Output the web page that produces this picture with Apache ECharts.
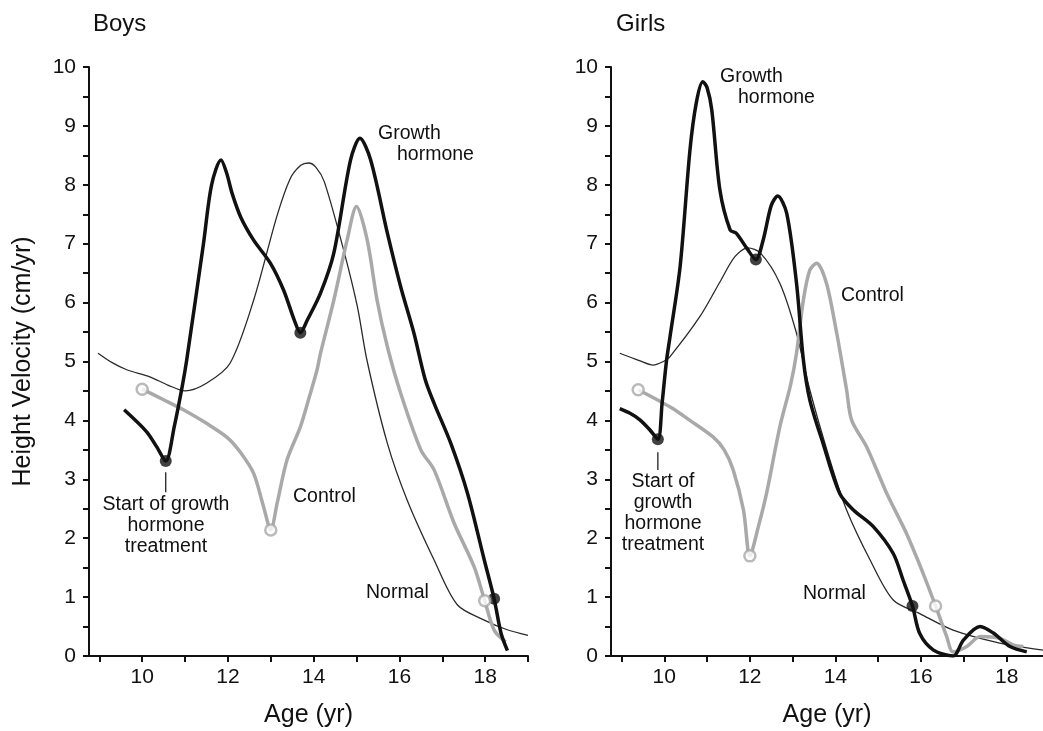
<!DOCTYPE html>
<html>
<head>
<meta charset="utf-8">
<script src="https://cdn.jsdelivr.net/npm/echarts@6/dist/echarts.min.js"></script>
<style>
  html, body { margin: 0; padding: 0; background: #fff; }
  #main { width: 1043px; height: 731px; }
</style>
</head>
<body>
<div id="main"></div>
<script>
// 数据：年龄 (yr) 与 身高增长速度 (cm/yr)
var boysGrowth = [[9.58,4.18],[10.1,3.81],[10.34,3.55],[10.55,3.31],[10.75,3.9],[10.94,4.6],[11.04,5.03],[11.43,7.0],[11.62,8.0],[11.84,8.42],[11.97,8.2],[12.1,7.85],[12.3,7.45],[12.6,7.06],[12.99,6.67],[13.3,6.21],[13.55,5.7],[13.69,5.49],[13.85,5.7],[14.16,6.16],[14.47,6.84],[14.86,8.42],[15.08,8.79],[15.33,8.42],[15.72,7.18],[16.03,6.27],[16.34,5.48],[16.6,4.7],[16.81,4.29],[17.2,3.61],[17.59,2.76],[17.98,1.63],[18.21,0.97],[18.37,0.39],[18.52,0.09]];
var boysControl = [[10.0,4.53],[10.5,4.35],[10.96,4.18],[11.5,3.95],[12.0,3.7],[12.3,3.45],[12.6,3.1],[12.83,2.54],[13.0,2.14],[13.15,2.6],[13.38,3.33],[13.69,3.89],[13.9,4.4],[14.08,4.86],[14.16,5.14],[14.47,6.04],[14.78,7.06],[15.0,7.63],[15.25,7.06],[15.48,6.04],[15.72,5.25],[16.03,4.46],[16.5,3.5],[16.81,3.16],[17.28,2.25],[17.74,1.52],[17.99,0.94],[18.21,0.44],[18.48,0.24]];
var boysNormal = [[8.97,5.14],[9.3,4.98],[9.64,4.86],[10.18,4.74],[10.6,4.6],[11.0,4.5],[11.5,4.63],[12.05,4.97],[12.6,6.04],[13.14,7.46],[13.45,8.1],[13.7,8.33],[13.88,8.37],[14.05,8.3],[14.25,8.05],[14.7,6.89],[15.02,5.93],[15.25,5.0],[15.72,3.61],[16.18,2.65],[16.81,1.63],[17.35,0.87],[17.98,0.61],[18.5,0.45],[19.0,0.35]];
var girlsGrowth = [[8.96,4.2],[9.2,4.12],[9.43,4.01],[9.65,3.85],[9.85,3.68],[9.95,4.3],[10.05,5.0],[10.13,5.4],[10.37,6.61],[10.6,8.59],[10.75,9.4],[10.9,9.75],[11.0,9.65],[11.11,9.27],[11.3,7.91],[11.54,7.23],[11.68,7.18],[11.93,6.92],[12.14,6.73],[12.31,7.06],[12.5,7.65],[12.65,7.81],[12.86,7.52],[13.09,6.33],[13.25,5.03],[13.4,4.35],[13.71,3.61],[14.1,2.76],[14.42,2.48],[14.88,2.2],[15.35,1.74],[15.58,1.29],[15.8,0.85],[15.97,0.38],[16.29,0.1],[16.75,0.0],[16.99,0.27],[17.38,0.5],[17.69,0.39],[18.08,0.16],[18.47,0.07]];
var girlsControl = [[9.39,4.52],[10.13,4.23],[10.6,4.0],[11.14,3.72],[11.4,3.5],[11.61,3.16],[11.85,2.48],[12.0,1.7],[12.2,2.2],[12.39,2.76],[12.7,3.89],[12.95,4.6],[13.09,5.14],[13.25,6.04],[13.4,6.55],[13.56,6.67],[13.79,6.33],[14.03,5.48],[14.14,5.03],[14.26,4.52],[14.38,4.0],[14.73,3.55],[15.2,2.76],[15.66,2.08],[16.05,1.4],[16.34,0.85],[16.6,0.33],[16.75,0.07],[17.07,0.16],[17.38,0.33],[17.84,0.3],[18.15,0.19],[18.39,0.16]];
var girlsNormal = [[8.96,5.14],[9.4,5.02],[9.74,4.94],[9.98,5.0],[10.13,5.08],[10.83,5.76],[11.3,6.35],[11.65,6.78],[11.95,6.93],[12.25,6.84],[12.7,6.33],[13.09,5.48],[13.4,4.52],[13.87,3.33],[14.26,2.48],[14.81,1.63],[15.35,0.95],[15.97,0.72],[16.75,0.44],[17.84,0.22],[18.85,0.1]];

// 标记点
var boysGrowthDots = [[10.55,3.31],[13.69,5.49],[18.21,0.97]];
var boysControlDots = [[10.0,4.53],[13.0,2.14],[17.99,0.94]];
var girlsGrowthDots = [[9.85,3.68],[12.14,6.73],[15.8,0.85]];
var girlsControlDots = [[9.39,4.52],[12.0,1.7],[16.34,0.85]];
var boysLeader = [[10.55,3.12],[10.55,2.78]];
var girlsLeader = [[9.85,3.46],[9.85,3.16]];

// 刻度
var xTicks = [9, 10, 11, 12, 13, 14, 15, 16, 17, 18, 19];
var xLabels = [10, 12, 14, 16, 18];
var yTicks = [0, 0.5, 1, 1.5, 2, 2.5, 3, 3.5, 4, 4.5, 5, 5.5, 6, 6.5, 7, 7.5, 8, 8.5, 9, 9.5, 10];
var yLabels = [0, 1, 2, 3, 4, 5, 6, 7, 8, 9, 10];

var FONT = '"Liberation Sans", Arial, sans-serif';
var BLACK = '#111';
var GREY = '#a9a9a9';

var myChart = echarts.init(document.getElementById('main'));

function makeX(idx, min, max) {
    return {
        type: 'value', gridIndex: idx, min: min, max: max,
        name: 'Age (yr)', nameLocation: 'middle', nameGap: 47,
        nameTextStyle: { fontFamily: FONT, fontSize: 25, color: BLACK },
        splitLine: { show: false },
        axisLine: { onZero: false, lineStyle: { color: BLACK, width: 2 } },
        axisTick: { inside: false, length: 6, lineStyle: { color: BLACK, width: 2 }, customValues: xTicks },
        axisLabel: { margin: 11, fontFamily: FONT, fontSize: 21, color: BLACK, customValues: xLabels }
    };
}
function makeY(idx, showName) {
    return {
        type: 'value', gridIndex: idx, min: 0, max: 10,
        name: showName ? 'Height Velocity (cm/yr)' : '',
        nameLocation: 'middle', nameGap: 53, nameRotate: 90,
        nameTextStyle: { fontFamily: FONT, fontSize: 25, color: BLACK },
        splitLine: { show: false },
        axisLine: { show: true, lineStyle: { color: BLACK, width: 2 } },
        axisTick: { show: true, length: 6, lineStyle: { color: BLACK, width: 2 }, customValues: yTicks },
        axisLabel: { margin: 13, fontFamily: FONT, fontSize: 21, color: BLACK, customValues: yLabels }
    };
}
function curve(name, data, idx, color, width) {
    return {
        name: name, type: 'line', xAxisIndex: idx, yAxisIndex: idx,
        data: data, smooth: 0.3, showSymbol: false, symbol: 'none',
        lineStyle: { color: color, width: width }, z: 2, silent: true
    };
}
function dots(data, idx, open) {
    return {
        type: 'scatter', xAxisIndex: idx, yAxisIndex: idx, data: data,
        symbolSize: open ? 11 : 12, z: 5, silent: true,
        itemStyle: open ? { color: '#fff', borderColor: GREY, borderWidth: 2.5 } : { color: BLACK }
    };
}
function txt(str, x, y, align) {
    return {
        type: 'text', x: x, y: y,
        style: {
            text: str, fontFamily: FONT, fontSize: 19.5, fill: BLACK, lineHeight: 21,
            align: align || 'left', verticalAlign: 'top'
        }
    };
}

option = {
    backgroundColor: '#fff',
    animation: false,
    title: [
        { text: 'Boys', left: 88, top: 7, textStyle: { fontFamily: FONT, fontSize: 24, fontWeight: 'normal', color: BLACK } },
        { text: 'Girls', left: 611, top: 7, textStyle: { fontFamily: FONT, fontSize: 24, fontWeight: 'normal', color: BLACK } }
    ],
    grid: [
        { left: 89, top: 67, width: 439, height: 589, outerBoundsMode: 'none' },
        { left: 611, top: 67, width: 432, height: 589, outerBoundsMode: 'none' }
    ],
    xAxis: [makeX(0, 8.76, 19), makeX(1, 8.755, 18.85)],
    yAxis: [makeY(0, true), makeY(1, false)],
    series: [
        curve('Normal', boysNormal, 0, '#2a2a2a', 1.3),
        curve('Control', boysControl, 0, GREY, 3.5),
        curve('Growth hormone', boysGrowth, 0, BLACK, 3.5),
        curve('Leader', boysLeader, 0, BLACK, 1.2),
        dots(boysGrowthDots, 0, false),
        dots(boysControlDots, 0, true),
        curve('Normal', girlsNormal, 1, '#2a2a2a', 1.3),
        curve('Control', girlsControl, 1, GREY, 3.5),
        curve('Growth hormone', girlsGrowth, 1, BLACK, 3.5),
        curve('Leader', girlsLeader, 1, BLACK, 1.2),
        dots(girlsGrowthDots, 1, false),
        dots(girlsControlDots, 1, true)
    ],
    graphic: [
        txt('Growth', 378, 123),
        txt('hormone', 397, 144),
        txt('Start of growth\nhormone\ntreatment', 166, 494, 'center'),
        txt('Control', 293, 486),
        txt('Normal', 366, 582),
        txt('Growth', 720, 66),
        txt('hormone', 738, 87),
        txt('Control', 841, 285),
        txt('Start of\ngrowth\nhormone\ntreatment', 663, 471, 'center'),
        txt('Normal', 803, 583)
    ]
};
myChart.setOption(option);
</script>
</body>
</html>
